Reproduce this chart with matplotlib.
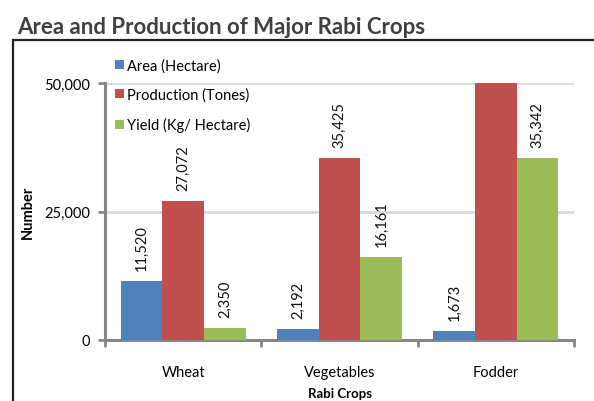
import numpy as np
import matplotlib
matplotlib.use("Agg")
import matplotlib.pyplot as plt
from matplotlib.patches import Rectangle
from matplotlib.ticker import FuncFormatter

plt.rcParams['font.family'] = ['Lato', 'DejaVu Sans']

crops = ["Wheat", "Vegetables", "Fodder"]
series = ["Area (Hectare)", "Production (Tones)", "Yield (Kg/ Hectare)"]
area = [11520, 2192, 1673]
production = [27072, 35425, 58000]   # fodder bar runs past the top of the axis
yield_kg = [2350, 16161, 35342]
colors = ["#4F81BD", "#C0504D", "#9BBB59"]

fig = plt.figure(figsize=(5.94, 4.02), dpi=100)
ax = fig.add_axes([105/594, 1-341/402, (574-105)/594, (341-84)/402])

# outer frame (left and top edges visible only)
fig.patches.append(Rectangle((13/594, -0.1), 1.2, 1.1 - 41/402,
                             transform=fig.transFigure, fill=False,
                             edgecolor="#222222", lw=1.6))

x = np.arange(len(crops))
w = 0.8 / 3
data = [area, production, yield_kg]
for i, (vals, name, c) in enumerate(zip(data, series, colors)):
    pos = x - w + i * w
    ax.bar(pos, vals, width=w, color=c, label=name, zorder=3)
    for px, v in zip(pos, vals):
        if v > 50000:
            continue
        ax.annotate(f"{v:,}", (px, v), xytext=(0, 8), textcoords="offset points",
                    rotation=90, ha="center", va="bottom", fontsize=10.5, color="#111111")

ax.set_xlim(-0.5, 2.5)
ax.set_ylim(0, 50000)
ax.set_yticks([0, 25000, 50000])
ax.yaxis.set_major_formatter(FuncFormatter(lambda v, p: f"{int(v):,}"))
ax.grid(axis="y", color="#d9d9d9", lw=2, zorder=0)
ax.set_axisbelow(True)

ax.set_xticks(x)
ax.set_xticklabels(crops)
ax.set_xticks([-0.5, 0.5, 1.5, 2.5], minor=True)
ax.tick_params(axis="x", which="major", length=0, pad=18, labelsize=10.5)
ax.tick_params(axis="x", which="minor", length=5, width=2, color="#868686")
ax.tick_params(axis="y", length=5, width=2, color="#868686", labelsize=10.5, pad=6)

for s in ["top", "right"]:
    ax.spines[s].set_visible(False)
for s in ["left", "bottom"]:
    ax.spines[s].set_color("#868686")
    ax.spines[s].set_linewidth(2.2)

ax.set_xlabel("Rabi Crops", fontweight="bold", fontsize=9.5, labelpad=6)
fig.text(28/594, 1-212/402, "Number", rotation=90, ha="center", va="center",
         fontweight="bold", fontsize=10.5)

fig.text(17/594, 1-28/402, "Area and Production of Major Rabi Crops",
         fontsize=16, fontweight="bold", color="#404040", va="center", ha="left")

fig.legend(loc="upper left", bbox_to_anchor=(115/594, 1-59/402), frameon=False,
           fontsize=10.5, handlelength=0.6, handleheight=0.6, handletextpad=0.2,
           labelspacing=1.05, borderaxespad=0, borderpad=0)

fig.savefig("out.png", dpi=100)
